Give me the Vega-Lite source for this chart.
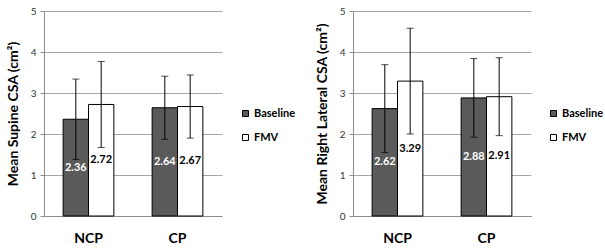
{
  "$schema": "https://vega.github.io/schema/vega-lite/v6.json",
  "padding": {"left": 6, "top": 6, "right": 0, "bottom": 0},
  "background": "white",
  "datasets": {
    "supine": [
      {"group": "NCP", "series": "Baseline", "mean": 2.36, "lo": 1.38, "hi": 3.34},
      {"group": "NCP", "series": "FMV", "mean": 2.72, "lo": 1.67, "hi": 3.77},
      {"group": "CP", "series": "Baseline", "mean": 2.64, "lo": 1.87, "hi": 3.41},
      {"group": "CP", "series": "FMV", "mean": 2.67, "lo": 1.9, "hi": 3.44}
    ],
    "lateral": [
      {"group": "NCP", "series": "Baseline", "mean": 2.62, "lo": 1.55, "hi": 3.69},
      {"group": "NCP", "series": "FMV", "mean": 3.29, "lo": 2.0, "hi": 4.58},
      {"group": "CP", "series": "Baseline", "mean": 2.88, "lo": 1.92, "hi": 3.84},
      {"group": "CP", "series": "FMV", "mean": 2.91, "lo": 1.96, "hi": 3.86}
    ]
  },
  "spacing": 19,
  "resolve": {"scale": {"color": "independent", "y": "independent", "x": "independent"}, "legend": {"color": "independent"}},
  "hconcat": [
    {
      "width": 178,
      "height": 205,
      "data": {"name": "supine"},
      "transform": [{"calculate": "datum.mean / 2", "as": "mid"}],
      "encoding": {
        "x": {"field": "group", "type": "nominal", "sort": ["NCP", "CP"], "title": null,
              "scale": {"paddingInner": 0.43, "paddingOuter": 0.215}},
        "xOffset": {"field": "series", "type": "nominal", "sort": ["Baseline", "FMV"], "scale": {"paddingInner": 0, "paddingOuter": 0}}
      },
      "layer": [
        {
          "mark": {"type": "bar", "stroke": "#000", "strokeWidth": 1},
          "encoding": {
            "y": {"field": "mean", "type": "quantitative", "scale": {"domain": [0, 5]},
                  "title": "Mean Supine CSA (cm²)", "axis": {"values": [0, 1, 2, 3, 4, 5]}},
            "color": {"field": "series", "type": "nominal", "sort": ["Baseline", "FMV"], "scale": {"range": ["#5a5a5a", "#ffffff"]},
                     "legend": {"title": null, "orient": "none", "legendX": 196, "legendY": 97}}
          }
        },
        {
          "mark": {"type": "rule", "color": "#000", "strokeWidth": 1},
          "encoding": {"y": {"field": "lo", "type": "quantitative"}, "y2": {"field": "hi"}}
        },
        {
          "mark": {"type": "tick", "color": "#000", "thickness": 1, "size": 7, "orient": "horizontal"},
          "encoding": {"y": {"field": "lo", "type": "quantitative"}}
        },
        {
          "mark": {"type": "tick", "color": "#000", "thickness": 1, "size": 7, "orient": "horizontal"},
          "encoding": {"y": {"field": "hi", "type": "quantitative"}}
        },
        {
          "mark": {"type": "text", "fontSize": 11, "fontWeight": "bold", "baseline": "middle"},
          "encoding": {
            "y": {"field": "mid", "type": "quantitative"},
            "text": {"field": "mean", "type": "quantitative", "format": ".2f"},
            "color": {"condition": {"test": "datum.series === 'Baseline'", "value": "#ffffff"}, "value": "#000000"}
          }
        }
      ]
    },
    {
      "width": 178,
      "height": 205,
      "data": {"name": "lateral"},
      "transform": [{"calculate": "datum.mean / 2", "as": "mid"}],
      "encoding": {
        "x": {"field": "group", "type": "nominal", "sort": ["NCP", "CP"], "title": null,
              "scale": {"paddingInner": 0.43, "paddingOuter": 0.215}},
        "xOffset": {"field": "series", "type": "nominal", "sort": ["Baseline", "FMV"], "scale": {"paddingInner": 0, "paddingOuter": 0}}
      },
      "layer": [
        {
          "mark": {"type": "bar", "stroke": "#000", "strokeWidth": 1},
          "encoding": {
            "y": {"field": "mean", "type": "quantitative", "scale": {"domain": [0, 5]},
                  "title": "Mean Right Lateral CSA (cm²)", "axis": {"values": [0, 1, 2, 3, 4, 5]}},
            "color": {"field": "series", "type": "nominal", "sort": ["Baseline", "FMV"], "scale": {"range": ["#5a5a5a", "#ffffff"]},
                     "legend": {"title": null, "orient": "none", "legendX": 195, "legendY": 97}}
          }
        },
        {
          "mark": {"type": "rule", "color": "#000", "strokeWidth": 1},
          "encoding": {"y": {"field": "lo", "type": "quantitative"}, "y2": {"field": "hi"}}
        },
        {
          "mark": {"type": "tick", "color": "#000", "thickness": 1, "size": 7, "orient": "horizontal"},
          "encoding": {"y": {"field": "lo", "type": "quantitative"}}
        },
        {
          "mark": {"type": "tick", "color": "#000", "thickness": 1, "size": 7, "orient": "horizontal"},
          "encoding": {"y": {"field": "hi", "type": "quantitative"}}
        },
        {
          "mark": {"type": "text", "fontSize": 11, "fontWeight": "bold", "baseline": "middle"},
          "encoding": {
            "y": {"field": "mid", "type": "quantitative"},
            "text": {"field": "mean", "type": "quantitative", "format": ".2f"},
            "color": {"condition": {"test": "datum.series === 'Baseline'", "value": "#ffffff"}, "value": "#000000"}
          }
        }
      ]
    }
  ],
  "config": {
    "font": "Lato",
    "view": {"stroke": null},
    "axisX": {"labelAngle": 0, "ticks": false, "labelPadding": 15, "labelFontSize": 14, "labelFontWeight": "bold", "labelColor": "#000", "domainColor": "#8c8c8c", "labelFont": "Lato"},
    "axisY": {"grid": true, "gridColor": "#a6a6a6", "domainColor": "#8c8c8c", "tickColor": "#8c8c8c", "tickSize": 4, "labelFontSize": 10, "labelColor": "#333", "labelPadding": 4, "titleFontSize": 14, "titleFontWeight": "bold", "titleColor": "#000", "titlePadding": 10, "labelFont": "Lato", "titleFont": "Lato"},
    "legend": {"labelFont": "Lato", "labelFontSize": 11, "labelFontWeight": "bold", "labelColor": "#000", "symbolType": "square", "symbolSize": 36, "symbolStrokeColor": "#000", "symbolStrokeWidth": 1, "rowPadding": 12, "labelOffset": 3}
  }
}
